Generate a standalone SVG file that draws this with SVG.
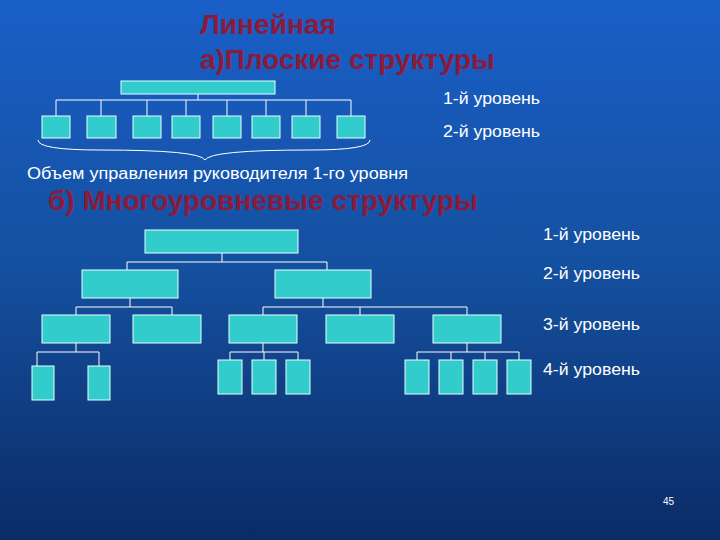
<svg xmlns="http://www.w3.org/2000/svg" width="720" height="540" viewBox="0 0 720 540">
<defs>
<linearGradient id="bg" x1="0" y1="0" x2="0" y2="1">
<stop offset="0" stop-color="#1a5fc8"/><stop offset="0.5" stop-color="#14509f"/><stop offset="1" stop-color="#0b2b66"/>
</linearGradient>
<style>
.b{fill:#33cccc;stroke:#e8ffff;stroke-width:1}
.c{fill:none;stroke:#ffffff;stroke-width:1}
.t{font-family:"Liberation Sans",Arial,sans-serif;fill:#ffffff;font-size:16px}
.h{font-family:"Liberation Sans",Arial,sans-serif;fill:#8c1a3a;font-size:27px;font-weight:bold}
</style>
</defs>
<rect width="720" height="540" fill="url(#bg)"/>
<g id="titles">
<text class="h" x="200" y="34" textLength="136" lengthAdjust="spacingAndGlyphs">Линейная</text>
<text class="h" x="200" y="69" textLength="295" lengthAdjust="spacingAndGlyphs">а)Плоские структуры</text>
<text class="h" x="48" y="210" textLength="430" lengthAdjust="spacingAndGlyphs">б) Многоуровневые структуры</text>
</g>
<g id="labels">
<text class="t" x="443" y="104" textLength="97" lengthAdjust="spacingAndGlyphs">1-й уровень</text>
<text class="t" x="443" y="137" textLength="97" lengthAdjust="spacingAndGlyphs">2-й уровень</text>
<text class="t" x="27" y="179" textLength="381" lengthAdjust="spacingAndGlyphs">Объем управления руководителя 1-го уровня</text>
<text class="t" x="543" y="240" textLength="97" lengthAdjust="spacingAndGlyphs">1-й уровень</text>
<text class="t" x="543" y="279" textLength="97" lengthAdjust="spacingAndGlyphs">2-й уровень</text>
<text class="t" x="543" y="330" textLength="97" lengthAdjust="spacingAndGlyphs">3-й уровень</text>
<text class="t" x="543" y="375" textLength="97" lengthAdjust="spacingAndGlyphs">4-й уровень</text>
<text class="t" x="663" y="505" style="font-size:10px">45</text>
</g>
<g id="connectors">
<path class="c" d="M198 94V100M56 100H351M56 100V116M101 100V116M147 100V116M186 100V116M227 100V116M266 100V116M306 100V116M351 100V116"/>
<path class="c" d="M38 140Q38 150 100 150Q200 150 205 160Q210 150 310 150Q370 150 370 140"/>
<path class="c" d="M222 253V262M127 262H327M127 262V270M327 262V270"/>
<path class="c" d="M130 298V307M76 307H172M76 307V315M172 307V315"/>
<path class="c" d="M323 298V307M263 307H467M263 307V315M360 307V315M467 307V315"/>
<path class="c" d="M76 343V352M37 352H99M37 352V366M99 352V366"/>
<path class="c" d="M263 343V352M230 352H298M230 352V360M264 352V360M298 352V360"/>
<path class="c" d="M467 343V352M417 352H519M417 352V360M451 352V360M485 352V360M519 352V360"/>
</g>
<g id="flat-top"><rect class="b" x="121" y="81" width="154" height="13"/></g>
<g id="flat-children">
<rect class="b" x="42" y="116" width="28" height="22"/>
<rect class="b" x="87" y="116" width="29" height="22"/>
<rect class="b" x="133" y="116" width="28" height="22"/>
<rect class="b" x="172" y="116" width="28" height="22"/>
<rect class="b" x="213" y="116" width="28" height="22"/>
<rect class="b" x="252" y="116" width="28" height="22"/>
<rect class="b" x="292" y="116" width="28" height="22"/>
<rect class="b" x="337" y="116" width="28" height="22"/>
</g>
<g id="ml-1"><rect class="b" x="145" y="230" width="153" height="23"/></g>
<g id="ml-2">
<rect class="b" x="82" y="270" width="96" height="28"/>
<rect class="b" x="275" y="270" width="96" height="28"/>
</g>
<g id="ml-3">
<rect class="b" x="42" y="315" width="68" height="28"/>
<rect class="b" x="133" y="315" width="68" height="28"/>
<rect class="b" x="229" y="315" width="68" height="28"/>
<rect class="b" x="326" y="315" width="68" height="28"/>
<rect class="b" x="433" y="315" width="68" height="28"/>
</g>
<g id="ml-4">
<rect class="b" x="32" y="366" width="22" height="34"/>
<rect class="b" x="88" y="366" width="22" height="34"/>
<rect class="b" x="218" y="360" width="24" height="34"/>
<rect class="b" x="252" y="360" width="24" height="34"/>
<rect class="b" x="286" y="360" width="24" height="34"/>
<rect class="b" x="405" y="360" width="24" height="34"/>
<rect class="b" x="439" y="360" width="24" height="34"/>
<rect class="b" x="473" y="360" width="24" height="34"/>
<rect class="b" x="507" y="360" width="24" height="34"/>
</g>
</svg>
